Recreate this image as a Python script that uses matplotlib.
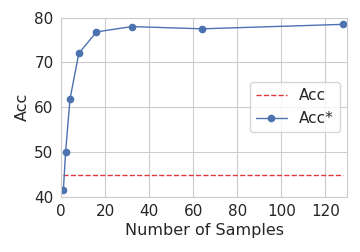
import numpy as np
import matplotlib
matplotlib.use("Agg")
import matplotlib.pyplot as plt
import seaborn as sns

# data
n_samples = [1, 2, 4, 8, 16, 32, 64, 128]
acc_star = [41.5, 50.0, 61.8, 72.0, 76.8, 78.0, 77.5, 78.5]
acc_base = 44.8

sns.set_style("whitegrid")
plt.rcParams["font.family"] = ["DejaVu Sans"]

fig, ax = plt.subplots(figsize=(3.6, 2.52), dpi=100)

ax.plot(n_samples, [acc_base] * len(n_samples), "--", color="#e0383b",
        linewidth=1.0, label="Acc")
ax.plot(n_samples, acc_star, "-o", color="#4c72b0", linewidth=1.0,
        markersize=4.5, label="Acc*")

ax.set_xlim(0, 130)
ax.set_ylim(40, 80)
ax.set_xticks([0, 20, 40, 60, 80, 100, 120])
ax.set_yticks([40, 50, 60, 70, 80])
ax.tick_params(labelsize=11, pad=2)
ax.set_xlabel("Number of Samples", fontsize=11.5, labelpad=3)
ax.set_ylabel("Acc", fontsize=11.5, labelpad=3)
ax.legend(loc="center right", fontsize=11)

fig.subplots_adjust(left=0.17, right=0.965, top=0.93, bottom=0.22)
fig.savefig("out.png", dpi=100)
